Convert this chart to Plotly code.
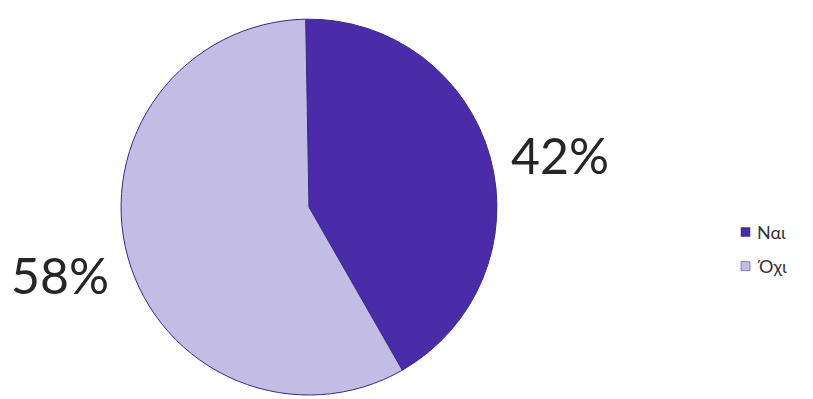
import plotly.graph_objects as go

# Survey answers and their shares (%)
labels = ["Ναι", "Όχι"]
values = [42, 58]
colors = ["#4a2ca8", "#c3bde6"]

# Percentage label placement (paper coordinates) for each slice
label_x = [0.689, 0.074]
label_y = [0.612, 0.312]

# Legend entry rows (paper y of each row centre)
legend_y = [0.4185, 0.333]

fig = go.Figure(
    go.Pie(
        labels=labels,
        values=values,
        sort=False,
        direction="clockwise",
        rotation=-1,
        textinfo="none",
        hoverinfo="label+percent",
        showlegend=False,
        marker=dict(colors=colors, line=dict(color="#3a2888", width=1)),
        domain=dict(x=[0.1488, 0.6113], y=[0.01, 0.952]),
    )
)

for v, x, y in zip(values, label_x, label_y):
    fig.add_annotation(
        x=x, y=y, xref="paper", yref="paper",
        text=f"{v}%", showarrow=False,
        font=dict(family="Lato, Open Sans, sans-serif", size=50, color="#262626"),
        xanchor="center", yanchor="middle",
    )

# Legend: a small colour square and the answer text per row
sq_w = 9 / 813
sq_h = 9 / 399
sq_x0 = 741 / 813
for lab, col, y in zip(labels, colors, legend_y):
    fig.add_shape(
        type="rect", xref="paper", yref="paper",
        x0=sq_x0, x1=sq_x0 + sq_w, y0=y - sq_h / 2, y1=y + sq_h / 2,
        fillcolor=col, line=dict(color="#3a2888", width=0.5),
    )
    fig.add_annotation(
        x=sq_x0 + sq_w + 5 / 813, y=y, xref="paper", yref="paper",
        text=lab, showarrow=False,
        font=dict(family="Lato, Open Sans, sans-serif", size=18, color="#333333"),
        xanchor="left", yanchor="middle",
    )

fig.update_layout(
    width=813,
    height=399,
    margin=dict(l=0, r=0, t=0, b=0),
    paper_bgcolor="white",
    plot_bgcolor="white",
    showlegend=False,
)

fig.write_html("out.html")
